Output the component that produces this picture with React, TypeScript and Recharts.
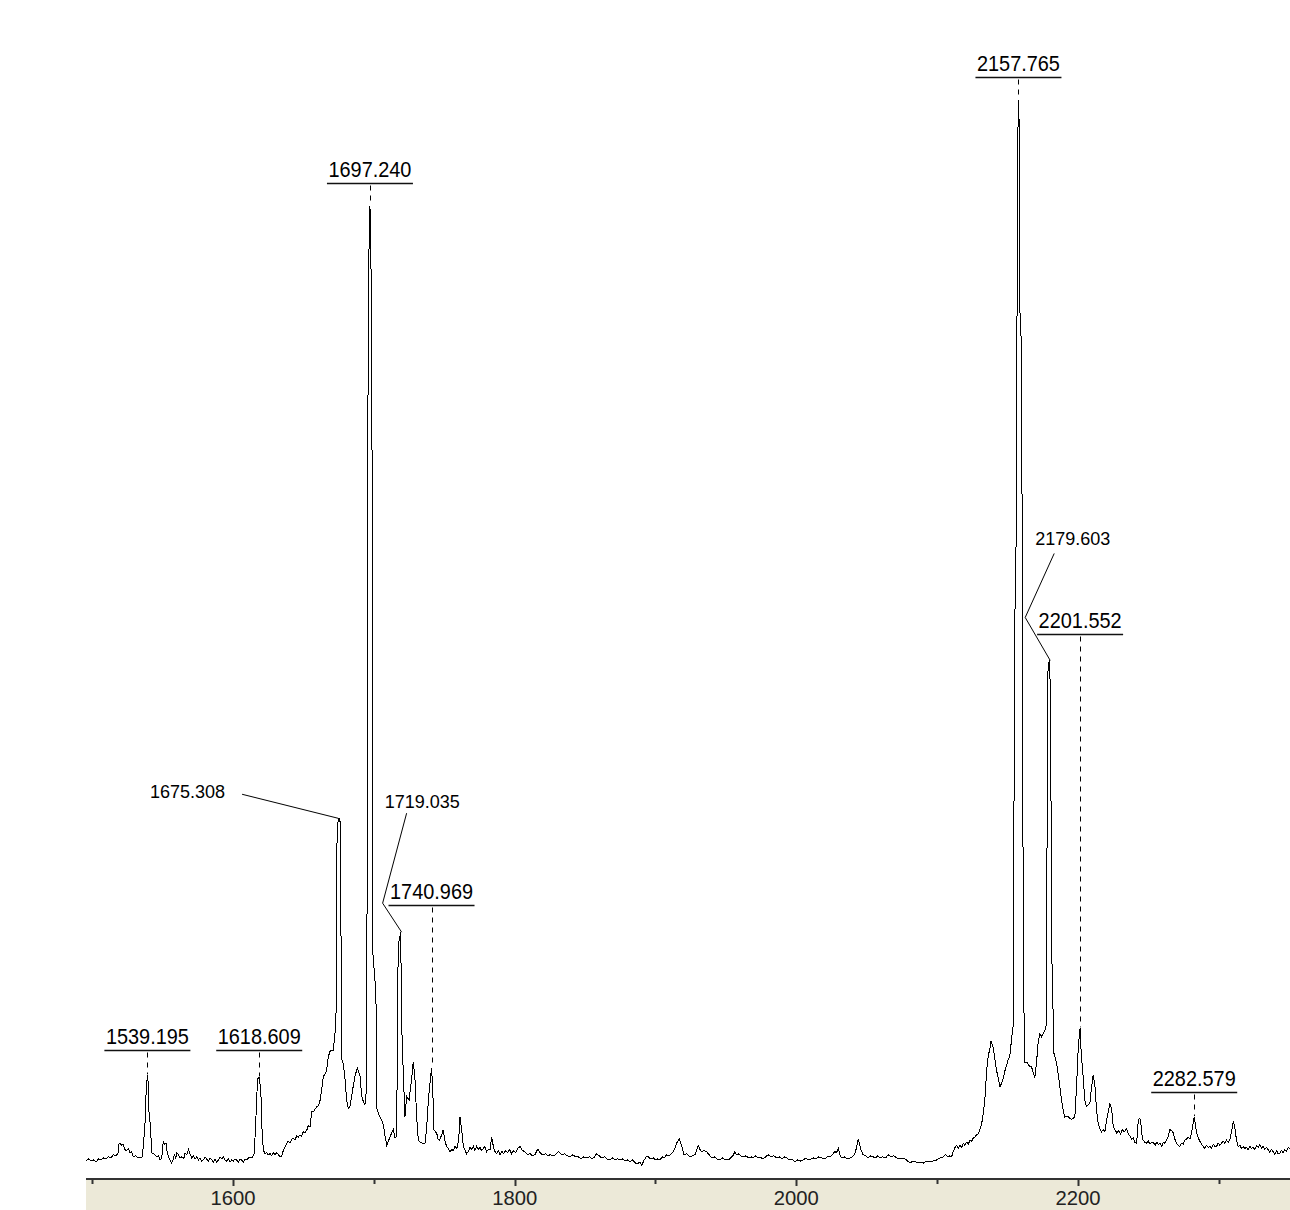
import React from "react"
import { LineChart, Line, XAxis, YAxis, ReferenceDot } from "recharts"

// spectrum trace, [m/z, relative intensity]
const LOW_MASS: [number, number][] = [
  [1495.6, -0.1], [1497.5, 0.1], [1499.2, -0.1], [1501.0, 0.0], [1502.8, -0.2], [1504.5, 0.1],
  [1506.3, 0.0], [1508.0, 0.2], [1509.8, 0.1], [1511.5, 0.3], [1513.3, 0.2], [1515.1, 0.5],
  [1516.8, 0.4], [1518.3, 0.6], [1519.0, 1.5], [1519.8, 1.6], [1521.0, 1.4], [1522.1, 1.5],
  [1523.0, 1.0], [1524.5, 0.9], [1525.6, 1.1], [1526.9, 0.7], [1528.0, 0.8], [1529.2, 0.3],
  [1531.0, 0.4], [1532.5, 0.2], [1534.0, 0.2], [1535.6, 0.3], [1536.4, 1.5], [1537.5, 3.5],
  [1538.3, 6.5], [1539.195, 8.1], [1539.8, 7.4], [1540.5, 3.8], [1541.3, 3.6], [1542.2, 0.7],
  [1543.5, 0.6], [1544.6, 0.5], [1545.8, 0.3], [1547.0, 0.4], [1548.2, 0.0], [1549.4, 0.2],
  [1550.5, 1.8], [1551.4, 1.5], [1552.4, 1.6], [1553.2, 0.8], [1554.1, 0.3], [1555.3, 0.0],
  [1556.5, -0.3], [1557.6, 0.1], [1558.5, 0.6], [1559.3, 0.1], [1560.0, 0.7], [1561.2, 0.5],
  [1562.4, 0.2], [1563.7, 0.3], [1565.0, 0.1], [1565.9, 0.7], [1567.1, 0.5], [1568.3, 1.0],
  [1569.4, 0.6], [1570.7, 0.2], [1572.0, 0.4], [1573.1, 0.1], [1574.2, 0.3], [1575.5, 0.0],
  [1576.6, 0.2], [1577.8, -0.1], [1578.9, 0.0], [1580.1, 0.3], [1581.3, 0.1], [1582.5, -0.1],
  [1583.7, 0.2], [1585.0, 0.0], [1586.1, -0.2], [1587.3, 0.1], [1588.4, -0.2], [1589.6, 0.0],
  [1590.8, 0.3], [1592.0, 0.1], [1593.1, 0.3], [1594.3, 0.0], [1595.5, -0.1], [1596.7, 0.1],
  [1597.9, -0.2], [1599.1, 0.0], [1600.3, -0.1], [1601.5, 0.1], [1602.6, 0.0], [1603.8, -0.2],
  [1605.0, 0.1], [1606.1, 0.0], [1607.3, -0.2], [1608.5, 0.1], [1609.7, 0.0], [1610.9, 0.2],
  [1612.1, 0.3], [1613.5, 0.2], [1614.9, 0.5], [1616.0, 3.0], [1616.8, 6.0], [1617.6, 7.8],
  [1618.609, 7.9], [1619.2, 7.2], [1619.8, 6.5], [1620.4, 3.4], [1621.5, 1.0], [1622.6, 0.6],
  [1623.9, 0.7], [1625.1, 0.5], [1626.3, 0.6], [1627.5, 0.4], [1628.7, 0.7], [1629.8, 0.5],
  [1631.0, 0.7], [1632.3, 0.5], [1633.4, 0.3], [1634.6, 0.4], [1635.7, 0.9], [1636.9, 1.2],
  [1638.1, 1.6], [1639.3, 1.8], [1640.5, 1.6], [1641.6, 2.0], [1642.8, 2.1], [1644.0, 1.9],
  [1645.2, 2.3], [1646.4, 2.2], [1647.6, 2.4], [1648.7, 2.3], [1649.9, 2.7], [1651.1, 2.6],
  [1652.5, 2.9], [1653.5, 3.3],
]

const CLUSTER_1700: [number, number][] = [
  [1654.7, 3.2], [1655.9, 4.6], [1657.5, 4.7], [1659.4, 5.1], [1660.6, 5.2], [1661.8, 5.7],
  [1663.0, 6.7], [1664.1, 8.0], [1665.3, 8.2], [1666.5, 8.6], [1667.7, 9.9], [1668.9, 10.4],
  [1670.0, 10.5], [1671.2, 10.5], [1672.4, 12.1], [1673.4, 14.7], [1673.9, 32.0], [1675.308, 32.7],
  [1676.4, 32.2], [1677.0, 9.7], [1678.3, 9.2], [1679.5, 7.8], [1680.7, 5.7], [1681.9, 4.9],
  [1683.1, 5.2], [1684.3, 6.1], [1685.4, 7.1], [1686.6, 8.0], [1688.2, 8.8], [1689.2, 8.5],
  [1690.2, 8.0], [1691.4, 6.1], [1692.5, 5.6], [1693.7, 5.3], [1695.0, 7.0], [1695.6, 67.9],
  [1696.6, 87.5], [1697.24, 91.3], [1697.9, 87.5], [1698.7, 67.9], [1699.2, 20.0], [1701.5, 16.0],
  [1702.0, 5.0], [1703.2, 4.5], [1704.4, 4.1], [1705.5, 3.8], [1706.7, 3.4], [1707.7, 2.5],
  [1708.6, 1.9], [1709.1, 1.4], [1710.3, 1.8], [1711.5, 2.2], [1712.7, 2.6], [1713.8, 2.9],
  [1715.0, 2.1], [1716.2, 2.3], [1717.3, 20.5], [1719.035, 21.8], [1719.9, 12.4], [1720.9, 8.4],
  [1722.1, 4.1], [1723.3, 6.1], [1725.0, 5.7], [1726.9, 7.8], [1728.0, 9.4], [1729.2, 7.8],
  [1730.4, 4.1], [1731.6, 1.9], [1733.0, 1.7], [1734.5, 1.6], [1736.3, 1.6], [1737.5, 3.0],
  [1738.7, 5.7], [1740.969, 8.8], [1741.8, 7.0], [1742.7, 2.9], [1743.7, 2.7], [1744.6, 2.6],
  [1745.6, 2.0], [1746.5, 1.9], [1747.9, 2.3], [1749.3, 2.9], [1750.5, 1.8], [1751.7, 1.3],
  [1752.9, 1.1], [1754.1, 0.8], [1755.3, 1.0], [1756.5, 0.9], [1757.6, 1.3], [1759.0, 1.1],
  [1760.3, 2.0], [1761.2, 4.1], [1762.3, 3.0], [1763.6, 1.3], [1764.8, 0.9], [1765.9, 0.6],
  [1767.2, 0.8], [1768.3, 1.2], [1769.5, 1.0], [1770.7, 1.3], [1771.8, 0.9], [1773.0, 1.3],
  [1774.2, 1.0], [1775.4, 1.2], [1776.5, 0.9], [1777.7, 1.1], [1778.9, 1.3], [1780.1, 0.8],
  [1781.3, 1.0], [1782.5, 1.0], [1783.7, 2.2], [1785.0, 1.2], [1786.1, 0.8], [1787.2, 0.6],
  [1788.4, 0.9],
]

const MID_MASS: [number, number][] = [
  [1789.6, 0.5], [1791.0, 0.8], [1792.3, 0.6], [1793.6, 0.9], [1795.0, 0.7], [1796.5, 1.0],
  [1797.8, 0.6], [1799.2, 0.9], [1800.6, 0.7], [1802.2, 1.1], [1803.8, 1.3], [1805.5, 0.9],
  [1807.3, 0.8], [1809.0, 0.5], [1810.9, 0.6], [1812.6, 0.4], [1814.4, 0.5], [1815.8, 0.9],
  [1816.8, 1.0], [1818.5, 0.6], [1820.3, 0.5], [1822.0, 0.6], [1823.6, 0.4], [1825.1, 0.5],
  [1827.0, 0.4], [1829.0, 0.5], [1831.0, 0.8], [1833.4, 0.5], [1835.3, 0.6], [1837.2, 0.4],
  [1839.3, 0.3], [1841.2, 0.5], [1843.2, 0.3], [1845.2, 0.3], [1847.2, 0.1], [1849.1, 0.3],
  [1851.1, 0.2], [1853.2, 0.3], [1855.0, 0.1], [1856.8, 0.3], [1858.2, 0.6], [1860.0, 0.4],
  [1861.8, 0.2], [1863.8, 0.3], [1865.7, 0.1], [1867.7, 0.0], [1869.5, 0.2], [1871.2, 0.0],
  [1873.0, 0.1], [1874.8, 0.0], [1876.6, 0.1], [1878.4, -0.1], [1880.2, 0.0], [1881.9, -0.2],
  [1883.8, 0.0], [1885.8, -0.3], [1887.8, -0.3], [1889.0, -0.2], [1890.2, -0.5], [1892.0, 0.0],
  [1893.5, 0.3], [1894.9, 0.3], [1896.6, 0.1], [1898.4, 0.2], [1900.0, 0.0], [1901.6, 0.1],
  [1903.2, 0.0], [1904.8, 0.3], [1906.4, 0.2], [1907.9, 0.5], [1909.6, 0.4], [1911.2, 0.6],
  [1912.6, 0.8], [1914.0, 1.2], [1915.0, 1.6], [1916.9, 2.0], [1918.6, 1.4], [1919.4, 0.9],
  [1920.2, 0.5], [1922.3, 0.6], [1924.5, 0.3], [1926.3, 0.4], [1928.0, 0.5], [1929.2, 0.9],
  [1930.4, 1.4], [1931.6, 1.0], [1932.8, 0.8], [1934.6, 0.9], [1936.3, 0.8], [1938.1, 0.5],
  [1939.9, 0.2], [1941.8, 0.3], [1943.8, 0.1], [1945.8, 0.0], [1947.8, 0.2], [1949.8, 0.0],
  [1951.7, 0.0], [1953.4, 0.2], [1955.0, 0.4], [1956.4, 0.8], [1957.6, 0.5], [1958.8, 0.6],
  [1960.6, 0.4], [1962.3, 0.3], [1964.3, 0.4], [1966.2, 0.2], [1968.0, 0.3], [1969.4, 0.2],
  [1971.0, 0.4], [1972.6, 0.2], [1974.2, 0.3], [1976.2, 0.1], [1978.2, 0.3], [1980.1, 0.5],
  [1982.1, 0.3], [1984.0, 0.4], [1986.0, 0.2], [1988.0, 0.3], [1989.8, 0.1], [1991.4, 0.3],
  [1993.1, 0.2], [1995.0, 0.0], [1997.0, 0.1], [1999.0, -0.2], [2001.0, 0.0], [2003.0, -0.1],
  [2004.9, 0.0], [2006.8, 0.2], [2008.6, 0.0], [2010.3, 0.1], [2012.0, 0.2], [2014.0, 0.1],
  [2016.0, 0.3], [2018.0, 0.2], [2020.0, 0.1], [2022.0, 0.3], [2023.9, 0.3], [2025.6, 0.5],
  [2027.4, 0.8], [2028.6, 0.7], [2029.8, 1.1], [2031.0, 0.5], [2032.2, 0.2], [2034.2, 0.3],
  [2036.2, 0.1], [2038.1, 0.2], [2039.9, 0.3], [2041.6, 0.6], [2042.8, 1.2], [2044.0, 2.0],
  [2045.0, 1.5], [2045.7, 1.0], [2047.5, 0.5], [2049.3, 0.4], [2051.0, 0.2], [2052.8, 0.4],
  [2054.6, 0.3], [2056.2, 0.2], [2057.8, 0.4], [2059.4, 0.2], [2061.4, 0.3], [2063.4, 0.2],
  [2065.3, 0.5], [2067.3, 0.3], [2069.2, 0.4], [2071.2, 0.2], [2073.5, 0.1], [2075.9, 0.2],
  [2078.3, 0.0], [2080.7, -0.3], [2083.0, -0.1], [2085.4, -0.2], [2087.8, -0.2], [2090.2, -0.3],
  [2092.6, -0.1], [2094.9, -0.2], [2097.2, -0.1], [2099.6, 0.0], [2102.0, 0.2],
]

const CLUSTER_2160: [number, number][] = [
  [2104.3, 0.3], [2106.0, 0.5], [2107.5, 0.3], [2109.1, 0.4], [2110.3, 0.3], [2111.4, 0.8],
  [2112.7, 1.2], [2113.8, 1.4], [2115.0, 1.1], [2116.2, 1.4], [2117.5, 1.2], [2118.5, 1.6],
  [2119.7, 1.4], [2121.0, 1.7], [2122.2, 1.5], [2123.3, 1.9], [2124.5, 1.8], [2125.7, 2.1],
  [2126.8, 2.2], [2128.0, 2.4], [2129.2, 2.5], [2130.4, 2.9], [2131.4, 3.3], [2132.3, 4.0],
  [2133.1, 4.8], [2133.9, 5.8], [2134.5, 7.0], [2135.1, 8.4], [2135.7, 9.2], [2136.3, 10.0],
  [2137.5, 10.6], [2138.2, 11.4], [2138.7, 11.2], [2139.8, 10.8], [2141.0, 9.7], [2142.2, 8.6],
  [2143.4, 7.8], [2144.6, 7.0], [2145.7, 7.3], [2146.9, 7.8], [2148.1, 8.5], [2149.4, 9.1],
  [2150.5, 9.6], [2151.7, 10.0], [2152.9, 11.6], [2154.1, 12.9], [2155.0, 50.0], [2156.2, 60.0],
  [2156.8, 82.5], [2157.5, 100.0], [2157.765, 101.4], [2158.3, 99.0], [2158.9, 80.0], [2160.1, 78.0],
  [2160.6, 40.0], [2161.6, 15.0], [2162.3, 9.3], [2164.0, 9.3], [2165.5, 9.0], [2167.1, 8.9],
  [2168.3, 8.3], [2169.4, 7.9], [2170.6, 9.3], [2171.7, 11.2], [2173.0, 12.1], [2174.2, 11.8],
  [2175.4, 12.1], [2176.6, 12.4], [2177.6, 13.0], [2178.5, 46.5], [2179.603, 47.8], [2180.5, 45.0],
  [2181.4, 20.0], [2183.0, 10.2], [2184.8, 9.3], [2186.0, 8.2], [2187.2, 7.0], [2188.4, 5.7],
  [2189.5, 4.8], [2190.7, 4.1], [2192.5, 4.2], [2194.3, 4.0], [2195.5, 3.9], [2196.6, 4.0],
  [2197.8, 4.1], [2199.0, 7.0], [2200.3, 11.0], [2201.552, 12.6], [2202.4, 10.0], [2203.2, 8.9],
  [2204.9, 5.7], [2206.1, 5.1], [2207.3, 5.3], [2208.5, 5.4], [2209.7, 7.0], [2210.8, 8.1],
  [2212.0, 7.3], [2213.2, 4.8], [2214.4, 3.5], [2215.6, 3.0], [2216.8, 2.7], [2218.0, 2.9],
  [2219.1, 2.7], [2220.3, 3.8], [2221.5, 4.6], [2222.7, 5.4], [2223.9, 4.9], [2225.1, 3.2],
  [2226.3, 2.9], [2227.5, 2.6], [2228.9, 2.8], [2230.3, 2.5], [2231.6, 2.9], [2233.0, 2.7],
  [2234.6, 3.0], [2235.8, 2.5], [2236.9, 2.3], [2238.1, 2.0], [2239.3, 2.1], [2240.4, 1.7],
  [2241.7, 1.6], [2242.8, 3.7], [2243.6, 4.0], [2244.5, 3.8], [2245.4, 2.5], [2246.3, 1.9],
  [2247.5, 1.7], [2248.7, 1.6], [2250.0, 1.8], [2251.2, 1.5], [2252.4, 1.7], [2253.4, 1.7],
  [2254.8, 1.4], [2256.0, 1.7], [2257.2, 1.5], [2258.2, 1.6], [2259.5, 1.3], [2260.7, 1.7],
  [2261.8, 1.6], [2262.9, 1.9], [2264.1, 2.2], [2265.3, 2.9], [2266.5, 2.8], [2267.6, 2.6],
  [2268.8, 2.0], [2270.0, 1.6], [2271.2, 1.4], [2272.4, 1.3], [2273.6, 1.6], [2274.8, 1.5],
  [2275.9, 1.9], [2277.1, 2.0], [2278.3, 2.2], [2279.5, 2.0], [2280.7, 2.6], [2281.6, 3.3],
  [2282.579, 4.1], [2283.4, 3.4], [2284.3, 2.6], [2285.5, 2.1], [2286.6, 1.8], [2287.8, 1.5],
  [2289.0, 1.3], [2290.1, 1.1], [2291.3, 1.4], [2292.5, 1.2], [2293.7, 1.3], [2294.9, 1.1],
  [2296.1, 1.5], [2297.2, 1.3], [2298.4, 1.3], [2299.6, 1.6], [2300.8, 1.4], [2302.0, 1.6],
  [2303.1, 1.8], [2304.3, 1.6], [2305.5, 1.9], [2306.7, 1.7], [2307.9, 1.9], [2309.2, 2.8],
  [2310.3, 3.7], [2311.4, 3.1], [2312.6, 1.9], [2313.8, 1.3], [2315.0, 1.4], [2316.2, 1.1],
  [2317.4, 1.3], [2318.5, 1.1], [2319.7, 1.2], [2320.9, 1.0], [2322.1, 1.3], [2323.3, 1.1],
  [2324.5, 1.2], [2325.7, 1.0], [2326.8, 1.4], [2328.0, 1.2], [2329.2, 1.5], [2330.4, 1.1],
  [2331.5, 1.3], [2332.7, 1.0], [2333.9, 1.2], [2335.1, 1.0], [2336.2, 0.7], [2337.4, 1.0],
  [2338.6, 0.8], [2339.8, 0.5], [2341.0, 0.9], [2342.2, 0.6], [2343.4, 0.6], [2344.5, 0.9],
  [2345.7, 0.7], [2346.9, 1.0], [2348.1, 0.8], [2349.3, 1.2], [2350.6, 1.1],
]

// labelled peaks (m/z, apex intensity)
const PEAKS = [
  { mz: 1539.195, intensity: 8.1, label: "1539.195" },
  { mz: 1618.609, intensity: 7.9, label: "1618.609" },
  { mz: 1675.308, intensity: 32.7, label: "1675.308" },
  { mz: 1697.24, intensity: 91.3, label: "1697.240" },
  { mz: 1719.035, intensity: 21.8, label: "1719.035" },
  { mz: 1740.969, intensity: 8.8, label: "1740.969" },
  { mz: 2157.765, intensity: 101.4, label: "2157.765" },
  { mz: 2179.603, intensity: 47.8, label: "2179.603" },
  { mz: 2201.552, intensity: 12.6, label: "2201.552" },
  { mz: 2282.579, intensity: 4.1, label: "2282.579" },
]

const AXIS_TICKS = [1500, 1600, 1700, 1800, 1900, 2000, 2100, 2200, 2300]
const X_DOMAIN = [1495.6, 2350.6]
const Y_DOMAIN = [-1.82, 111.0]

// label placement, pixels relative to the apex
type Layout =
  | { kind: "under"; gap: number }
  | { kind: "leader"; anchor: "start" | "end"; tx: number; ty: number; path: [number, number][] }

const LABEL_LAYOUT: Record<string, Layout> = {
  "1539.195": { kind: "under", gap: 25 },
  "1618.609": { kind: "under", gap: 27 },
  "1697.240": { kind: "under", gap: 23 },
  "1740.969": { kind: "under", gap: 163 },
  "2157.765": { kind: "under", gap: 23 },
  "2201.552": { kind: "under", gap: 394 },
  "2282.579": { kind: "under", gap: 25 },
  "1675.308": { kind: "leader", anchor: "end", tx: -114, ty: -20, path: [[-97, -24], [-1, 0]] },
  "1719.035": { kind: "leader", anchor: "start", tx: -16, ty: -124, path: [[6, -119], [-18, -29], [1, 0]] },
  "2179.603": { kind: "leader", anchor: "start", tx: -14, ty: -115, path: [[5, -107], [-24, -43], [1, 0]] },
}

const FONT = "'Liberation Sans', Arial, sans-serif"

const spectrum = [...LOW_MASS, ...CLUSTER_1700, ...MID_MASS, ...CLUSTER_2160].map(([mz, intensity]) => ({ mz, intensity }))

function PeakLabel({ cx, cy, label }: { cx: number; cy: number; label: string }) {
  const lay = LABEL_LAYOUT[label]
  if (!lay || cx == null || cy == null) return null
  if (lay.kind === "under") {
    const uy = Math.round(cy - lay.gap) + 0.5
    const lx = Math.round(cx) + 0.5
    return (
      <g>
        <text x={cx} y={uy - 7} textAnchor="middle" fontSize={22} fontFamily={FONT} fill="#000"
          textLength={83} lengthAdjust="spacingAndGlyphs">
          {label}
        </text>
        <line x1={cx - 43} x2={cx + 43} y1={uy} y2={uy} stroke="#111" strokeWidth={1.5} />
        <line x1={lx} x2={lx} y1={uy + 2} y2={cy - 1} stroke="#000" strokeWidth={1} strokeDasharray="5 5" />
      </g>
    )
  }
  const pts = lay.path.map(([dx, dy]) => `${cx + dx},${cy + dy}`).join(" ")
  return (
    <g>
      <text x={cx + lay.tx} y={cy + lay.ty} textAnchor={lay.anchor} fontSize={18} fontFamily={FONT} fill="#000">
        {label}
      </text>
      <polyline points={pts} fill="none" stroke="#000" strokeWidth={1} />
    </g>
  )
}

function AxisTick(props: any) {
  const { x, y, payload } = props
  const major = payload.value % 200 === 0
  const tx = Math.round(x) + 0.5
  return (
    <g>
      <line x1={tx} x2={tx} y1={y} y2={y + (major ? 7 : 5)} stroke="#333" strokeWidth={2} />
      {major && (
        <text x={x} y={y + 26} textAnchor="middle" fontSize={20} fontFamily={FONT} fill="#222"
          textLength={45} lengthAdjust="spacingAndGlyphs">
          {payload.value}
        </text>
      )}
    </g>
  )
}

export default function App() {
  return (
    <div style={{ position: "absolute", left: 0, top: 0, width: 1290, height: 1210, background: "white", overflow: "hidden" }}>
      <style>{".recharts-line-curve { shape-rendering: crispEdges; }"}</style>
      <div style={{ position: "absolute", left: 86, top: 1179, width: 1204, height: 31, background: "#ECE9D8" }} />
      <div style={{ position: "absolute", left: 0, top: 0 }}>
        <LineChart width={1290} height={1210} data={spectrum} margin={{ top: 0, right: 0, bottom: 0, left: 86 }}>
          <XAxis
            dataKey="mz"
            type="number"
            domain={X_DOMAIN}
            allowDataOverflow
            ticks={AXIS_TICKS}
            interval={0}
            height={31}
            tickSize={0}
            tickMargin={0}
            tickLine={false}
            axisLine={{ stroke: "#333", strokeWidth: 2 }}
            tick={(p: any) => <AxisTick {...p} />}
          />
          <YAxis type="number" domain={Y_DOMAIN} allowDataOverflow hide />
          <Line
            type="linear"
            dataKey="intensity"
            stroke="#000"
            strokeWidth={1}
            dot={false}
            activeDot={false}
            isAnimationActive={false}
          />
          {PEAKS.map((p) => (
            <ReferenceDot
              key={p.label}
              x={p.mz}
              y={p.intensity}
              r={0}
              ifOverflow="visible"
              shape={(s: any) => <PeakLabel cx={s.cx} cy={s.cy} label={p.label} />}
            />
          ))}
        </LineChart>
      </div>
    </div>
  )
}
